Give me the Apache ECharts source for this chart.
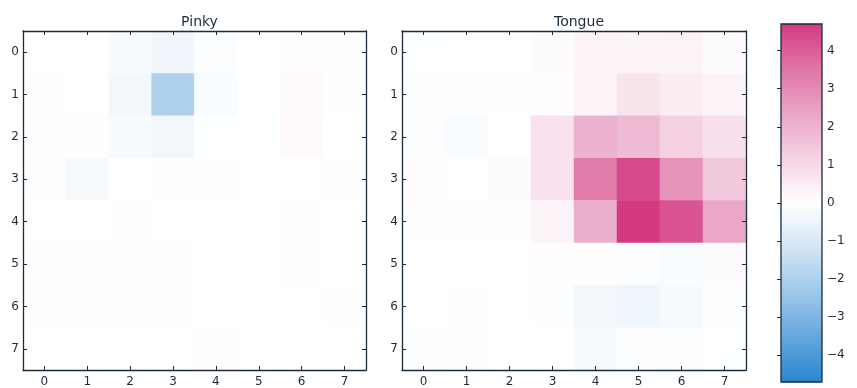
<!DOCTYPE html>
<html>
<head>
<meta charset="utf-8">
<style>
  html, body { margin: 0; padding: 0; background: #ffffff; }
  #chart { width: 857px; height: 388px; }
</style>
<script src="https://cdn.jsdelivr.net/npm/echarts@6/dist/echarts.min.js"></script>
</head>
<body>
<div id="chart"></div>
<script>
// Grid coordinates shared by both panels
const cols = ['0', '1', '2', '3', '4', '5', '6', '7'];
const rows = ['0', '1', '2', '3', '4', '5', '6', '7'];

// Panel titles
const panelTitles = ['Pinky', 'Tongue'];

// Pinky values, one array per row (top to bottom), columns left to right
const pinky = [
  [ 0.00,  0.00, -0.20, -0.40, -0.10,  0.00,  0.05,  0.02],
  [ 0.05,  0.00, -0.30, -1.95, -0.15,  0.00,  0.15,  0.02],
  [-0.05, -0.03, -0.18, -0.35, -0.02, -0.02,  0.12,  0.00],
  [-0.08, -0.22,  0.00, -0.05, -0.05,  0.00,  0.00, -0.05],
  [ 0.00,  0.00,  0.03,  0.00,  0.00,  0.00, -0.06, -0.02],
  [ 0.04,  0.04,  0.03,  0.02,  0.00,  0.00, -0.06,  0.00],
  [ 0.05,  0.09,  0.03,  0.02,  0.00,  0.00,  0.00, -0.05],
  [ 0.00,  0.00,  0.00,  0.00,  0.04,  0.00,  0.00,  0.00]
];

// Tongue values, same layout
const tongue = [
  [-0.02,  0.00,  0.00,  0.10,  0.28,  0.28,  0.32,  0.10],
  [-0.05, -0.08,  0.05,  0.05,  0.30,  0.70,  0.50,  0.30],
  [-0.08, -0.15,  0.00,  0.75,  2.00,  1.80,  1.20,  0.80],
  [ 0.05,  0.00,  0.10,  0.75,  3.40,  4.40,  2.80,  1.40],
  [ 0.02,  0.03,  0.03,  0.30,  2.10,  4.70,  4.20,  2.30],
  [ 0.00,  0.00,  0.00,  0.05,  0.03, -0.10, -0.15,  0.10],
  [ 0.00,  0.05,  0.00, -0.05, -0.30, -0.45, -0.22, -0.08],
  [-0.05,  0.02,  0.00,  0.00, -0.20, -0.05, -0.08, -0.02]
];

// Colour scale limits and colourbar tick values
const vmin = -4.7;
const vmax = 4.7;
const cbarTicks = [-4, -3, -2, -1, 0, 1, 2, 3, 4];

// Diverging palette, blue (low) through white to magenta (high)
const palette = ['#2b86cf', '#64a6dd', '#9cc8ea', '#d2e5f4', '#ffffff',
                 '#f5d2e3', '#eaa5c7', '#df76a6', '#d43a82'];

const ink = '#1b2b3a';
const font = 'DejaVu Sans';

function toCells(matrix) {
  const out = [];
  matrix.forEach((row, r) => row.forEach((v, c) => out.push([c, r, v])));
  return out;
}

const panels = [
  { left: 23, width: 343 },
  { left: 402, width: 344 }
];
const panelTop = 31, panelSize = 343;

const grids = [];
const xAxes = [];
const yAxes = [];
const titles = [];

panels.forEach((p, i) => {
  grids.push({ left: p.left, top: panelTop, width: p.width, height: panelSize, containLabel: false });
  const tick = { show: true, inside: true, length: 4, alignWithLabel: true,
                 lineStyle: { color: ink, width: 1 } };
  const line = { show: true, lineStyle: { color: ink, width: 1.3 } };
  // bottom and top x axes
  xAxes.push({
    type: 'category', gridIndex: i, data: cols, position: 'bottom', z: 10,
    axisLine: line, axisTick: tick,
    axisLabel: { color: ink, fontFamily: font, fontSize: 12, margin: 6 },
    splitLine: { show: false }
  });
  xAxes.push({
    type: 'category', gridIndex: i, data: cols, position: 'top', z: 10,
    axisLine: line, axisTick: tick, axisLabel: { show: false },
    splitLine: { show: false }
  });
  // left and right y axes
  yAxes.push({
    type: 'category', gridIndex: i, data: rows, inverse: true, position: 'left', z: 10,
    axisLine: line, axisTick: tick,
    axisLabel: { color: ink, fontFamily: font, fontSize: 12, margin: 4 },
    splitLine: { show: false }
  });
  yAxes.push({
    type: 'category', gridIndex: i, data: rows, inverse: true, position: 'right', z: 10,
    axisLine: line, axisTick: tick, axisLabel: { show: false },
    splitLine: { show: false }
  });
  titles.push({
    text: panelTitles[i],
    left: p.left + p.width / 2, top: 10, textAlign: 'center',
    textStyle: { color: ink, fontFamily: font, fontSize: 14, fontWeight: 'normal' }
  });
});

// Colourbar frame and tick axis
const cb = { left: 781, top: 24, width: 41, height: 358 };
grids.push({ left: cb.left, top: cb.top, width: cb.width, height: cb.height,
             show: true, z: 10, backgroundColor: 'transparent',
             borderColor: ink, borderWidth: 1.3 });
xAxes.push({ type: 'value', gridIndex: 2, show: false, min: 0, max: 1 });
yAxes.push({
  type: 'value', gridIndex: 2, min: vmin, max: vmax, position: 'right', z: 10,
  axisLine: { show: false },
  splitLine: { show: false },
  axisTick: { show: true, inside: true, length: 4, customValues: cbarTicks,
              lineStyle: { color: ink, width: 1 } },
  axisLabel: { show: true, customValues: cbarTicks, color: ink, fontFamily: font,
               fontSize: 12, margin: 5,
               formatter: v => (v < 0 ? '\u2212' + Math.abs(v) : String(v)) }
});

const option = {
  backgroundColor: '#ffffff',
  animation: false,
  title: titles,
  grid: grids,
  xAxis: xAxes,
  yAxis: yAxes,
  visualMap: {
    type: 'continuous',
    min: vmin, max: vmax,
    seriesIndex: [0, 1],
    orient: 'vertical',
    left: cb.left, top: cb.top,
    itemWidth: cb.width, itemHeight: cb.height,
    padding: 0,
    calculable: false,
    showLabel: false,
    text: null,
    hoverLink: false,
    z: 1,
    inRange: { color: palette }
  },
  series: [
    {
      type: 'heatmap', name: panelTitles[0], xAxisIndex: 0, yAxisIndex: 0,
      data: toCells(pinky), emphasis: { disabled: true }
    },
    {
      type: 'heatmap', name: panelTitles[1], xAxisIndex: 2, yAxisIndex: 2,
      data: toCells(tongue), emphasis: { disabled: true }
    }
  ]
};

const chart = echarts.init(document.getElementById('chart'), null, { renderer: 'canvas' });
chart.setOption(option);
</script>
</body>
</html>
